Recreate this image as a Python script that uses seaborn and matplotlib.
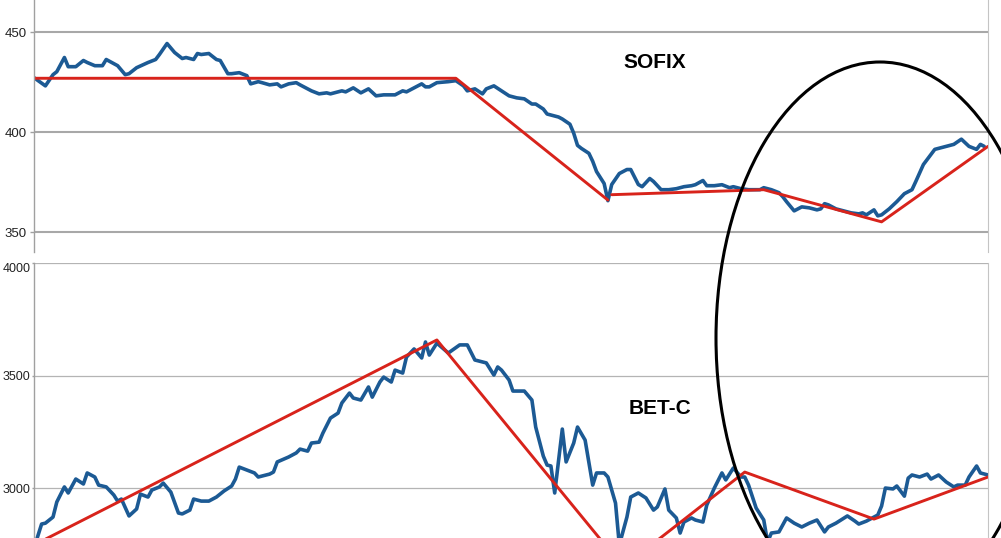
import matplotlib
matplotlib.use("Agg")
import matplotlib.pyplot as plt
import seaborn as sns
from matplotlib.patches import Ellipse

# SOFIX (top panel) - trading day index and index level
sofix_day = [0, 3, 5, 6, 8, 9, 11, 13, 14, 16,
             18, 19, 22, 24, 25, 27, 30, 32, 33, 35,
             37, 39, 40, 42, 43, 44, 46, 48, 49, 51,
             52, 54, 56, 57, 59, 60, 62, 64, 65, 67,
             69, 70, 72, 73, 75, 77, 78, 80, 81, 82,
             84, 86, 88, 90, 92, 95, 97, 98, 102, 103,
             104, 106, 109, 111, 113, 114, 116, 118, 119, 121,
             123, 125, 127, 129, 131, 132, 134, 135, 138, 139,
             141, 142, 143, 144, 146, 147, 148, 149, 150, 151,
             152, 154, 156, 157, 159, 160, 162, 163, 165, 167,
             169, 171, 173, 174, 176, 177, 179, 181, 183, 184,
             186, 188, 191, 192, 194, 196, 197, 198, 200, 202,
             204, 206, 207, 208, 209, 211, 213, 215, 217, 218,
             219, 221, 222, 223, 225, 227, 229, 231, 232, 234,
             237, 238, 240, 242, 244, 246, 248, 249, 250]
sofix_val = [427.3, 423.2, 428.8, 430.3, 437.4, 432.8, 432.8, 435.9, 434.9, 433.3,
             433.3, 436.4, 433.3, 428.8, 429.3, 432.3, 434.9, 436.4, 438.9, 444.4,
             439.9, 436.9, 437.4, 436.4, 439.4, 438.9, 439.4, 436.4, 435.9, 429.3,
             429.3, 429.8, 428.3, 424.2, 425.3, 424.8, 423.7, 424.2, 422.7, 424.2,
             424.8, 423.7, 421.7, 420.7, 419.2, 419.7, 419.2, 420.2, 420.7, 420.2,
             422.2, 419.7, 421.7, 418.2, 418.7, 418.7, 420.7, 420.2, 424.2, 422.7,
             422.7, 424.8, 425.3, 425.8, 423.2, 420.7, 421.7, 419.2, 421.7, 423.2,
             420.7, 418.2, 417.2, 416.7, 414.1, 414.1, 411.6, 409.1, 407.6, 406.6,
             404.0, 399.5, 393.4, 391.9, 389.4, 385.4, 380.3, 377.3, 374.3, 365.7,
             373.8, 379.3, 381.3, 381.3, 373.8, 372.7, 376.8, 375.3, 371.2, 371.2,
             371.7, 372.7, 373.2, 373.7, 375.8, 373.2, 373.2, 373.7, 372.2, 372.7,
             371.7, 371.2, 371.2, 372.2, 371.2, 369.7, 367.7, 365.2, 360.6, 362.6,
             362.1, 361.1, 361.6, 364.2, 363.6, 361.6, 360.6, 359.6, 359.1, 359.6,
             358.6, 361.1, 358.1, 358.6, 361.6, 365.2, 369.2, 371.2, 375.3, 383.8,
             391.4, 391.9, 392.9, 393.9, 396.5, 392.9, 391.4, 393.9, 392.9]
# SOFIX trend lines (two separate pieces)
sofix_trend1_day = [0, 111, 151]
sofix_trend1_val = [427.0, 427.0, 366.0]
sofix_trend2_day = [152, 192, 223, 251]
sofix_trend2_val = [368.7, 371.2, 355.1, 392.9]

# BET-C (bottom panel)
bet_day = [0, 2, 3, 5, 6, 8, 9, 11, 13, 14,
           16, 17, 19, 21, 22, 23, 25, 27, 28, 30,
           31, 33, 34, 36, 38, 39, 41, 42, 44, 46,
           48, 50, 52, 53, 54, 56, 58, 59, 62, 63,
           64, 67, 69, 70, 72, 73, 75, 76, 78, 80,
           81, 83, 84, 86, 88, 89, 91, 92, 94, 95,
           97, 98, 100, 102, 103, 104, 106, 109, 112, 114,
           116, 119, 121, 122, 123, 125, 126, 129, 131, 132,
           134, 135, 136, 137, 139, 140, 142, 143, 145, 147,
           148, 150, 151, 153, 154, 156, 157, 159, 161, 163,
           164, 166, 167, 169, 170, 171, 173, 174, 176, 177,
           179, 181, 182, 184, 186, 187, 188, 190, 192, 193,
           194, 196, 198, 200, 202, 204, 206, 208, 209, 211,
           214, 216, 217, 219, 221, 222, 223, 224, 226, 227,
           229, 230, 231, 233, 235, 236, 238, 240, 242, 243,
           245, 246, 248, 249, 251]
bet_val = [2733, 2840, 2844, 2871, 2938, 3005, 2978, 3040, 3018, 3067,
           3049, 3013, 3005, 2969, 2942, 2951, 2876, 2907, 2973, 2960,
           2991, 3005, 3022, 2982, 2889, 2885, 2902, 2951, 2942, 2942,
           2960, 2987, 3009, 3040, 3093, 3080, 3067, 3049, 3062, 3071,
           3116, 3138, 3156, 3173, 3164, 3200, 3204, 3244, 3311, 3333,
           3378, 3422, 3400, 3391, 3449, 3404, 3471, 3493, 3471, 3524,
           3511, 3582, 3618, 3578, 3649, 3591, 3644, 3600, 3636, 3636,
           3569, 3556, 3502, 3538, 3524, 3480, 3431, 3431, 3391, 3271,
           3142, 3102, 3098, 2978, 3262, 3116, 3200, 3271, 3213, 3013,
           3067, 3067, 3049, 2933, 2747, 2871, 2960, 2978, 2956, 2902,
           2916, 2996, 2902, 2867, 2800, 2849, 2867, 2858, 2849, 2924,
           3000, 3067, 3036, 3089, 3049, 3049, 3013, 2911, 2858, 2760,
           2800, 2805, 2867, 2844, 2827, 2844, 2858, 2805, 2827, 2844,
           2876, 2853, 2840, 2853, 2871, 2880, 2920, 3000, 2996, 3009,
           2964, 3044, 3058, 3049, 3062, 3040, 3058, 3027, 3005, 3013,
           3013, 3049, 3098, 3067, 3058]
bet_trend_day = [0, 106, 155, 187, 221, 251]
bet_trend_val = [2747, 3658, 2649, 3071, 2862, 3049]

sofix_ticks = [350, 400, 450]
bet_ticks = [3000, 3500, 4000]

BLUE = "#1c5a94"
RED = "#d8231b"

sns.set_style("white")
plt.rcParams["font.family"] = ["Liberation Sans", "DejaVu Sans"]

W, H = 1001, 538
fig = plt.figure(figsize=(W / 100, H / 100), dpi=100)
ax_top = fig.add_axes([34 / W, (H - 252) / H, 954 / W, 252 / H])
ax_bot = fig.add_axes([34 / W, 0, 954 / W, 275 / H])


def style_axis(ax, ticks, ylim, grid_lw, grid_col, tick_len, pad, size):
    ax.set_xlim(0, 251)
    ax.set_ylim(*ylim)
    ax.set_yticks(ticks)
    ax.set_xticks([])
    ax.set_xlabel("")
    ax.set_ylabel("")
    ax.yaxis.grid(True, color=grid_col, linewidth=grid_lw)
    ax.set_axisbelow(True)
    for side in ["top", "bottom"]:
        ax.spines[side].set_visible(False)
    ax.spines["left"].set_color("#a0a0a0")
    ax.spines["left"].set_linewidth(1.0)
    ax.spines["right"].set_color("#c4c4c4")
    ax.spines["right"].set_linewidth(0.8)
    ax.tick_params(axis="y", length=tick_len, width=1, color="#a0a0a0", pad=pad,
                   labelsize=size, labelcolor="#222222", left=True)


sns.lineplot(x=sofix_day, y=sofix_val, ax=ax_top, color=BLUE, linewidth=2.6,
             estimator=None, sort=False)
sns.lineplot(x=sofix_trend1_day, y=sofix_trend1_val, ax=ax_top, color=RED,
             linewidth=2.1, estimator=None, sort=False)
sns.lineplot(x=sofix_trend2_day, y=sofix_trend2_val, ax=ax_top, color=RED,
             linewidth=2.1, estimator=None, sort=False)
style_axis(ax_top, sofix_ticks, (340, 466.2), 1.5, "#a8a8a8", 3, 2, 9.5)

sns.lineplot(x=bet_day, y=bet_val, ax=ax_bot, color=BLUE, linewidth=2.6,
             estimator=None, sort=False)
sns.lineplot(x=bet_trend_day, y=bet_trend_val, ax=ax_bot, color=RED,
             linewidth=2.1, estimator=None, sort=False)
style_axis(ax_bot, bet_ticks, (2778, 4000), 0.9, "#b4b4b4", 1.5, 1, 9.0)
# keep the 4000 label inside the figure
ax_bot.get_yticklabels()[-1].set_va("top")

fig.text(655 / W, 1 - 62 / H, "SOFIX", ha="center", va="center",
         fontsize=15, fontweight="bold", color="black")
fig.text(660 / W, 1 - 408 / H, "BET-C", ha="center", va="center",
         fontsize=15, fontweight="bold", color="black")

# hand-drawn highlight ellipse across both panels
fig.add_artist(Ellipse((880 / W, 1 - 338 / H), 2 * 164 / W, 2 * 276 / H,
                       transform=fig.transFigure, fill=False,
                       edgecolor="black", linewidth=2.2))

fig.savefig("out.png", dpi=100)
